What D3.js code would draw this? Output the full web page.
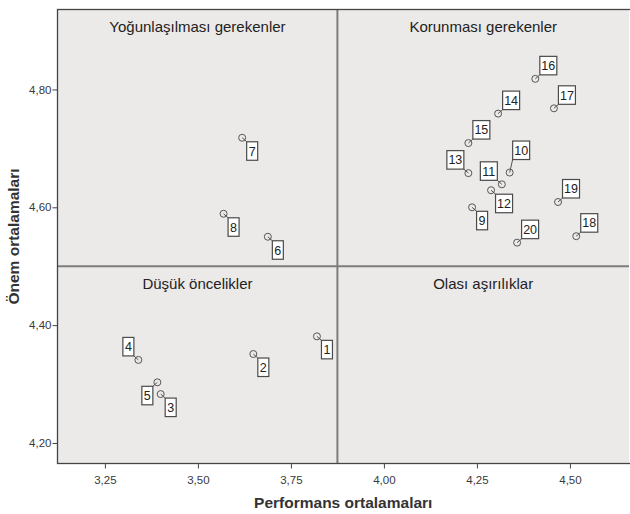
<!DOCTYPE html>
<html><head><meta charset="utf-8">
<script src="https://cdn.jsdelivr.net/npm/d3@7"></script>
<style>body{margin:0;background:#fff;} svg{display:block;font-family:"Liberation Sans",Arial,sans-serif;}</style>
</head><body>
<svg id="c" width="630" height="514"></svg>
<script>
const ids = [1,2,3,4,5,6,7,8,9,10,11,12,13,14,15,16,17,18,19,20];
const performance = [3.820,3.649,3.400,3.340,3.391,3.688,3.619,3.569,4.237,4.338,4.317,4.288,4.227,4.307,4.227,4.407,4.457,4.517,4.468,4.358];
const importance  = [4.381,4.351,4.283,4.341,4.303,4.550,4.718,4.589,4.600,4.659,4.639,4.629,4.658,4.759,4.709,4.818,4.768,4.551,4.609,4.540];
const labelSide   = ["dr","dr","dr","ul","dl","dr","dr","dr","dr","uR","ul","dr","ul","ur","ur","ur","ur","ur","ur","ur"];
const xTicks = [3.25,3.50,3.75,4.00,4.25,4.50];
const yTicks = [4.20,4.40,4.60,4.80];
const xMean = 3.875, yMean = 4.50;
const quadrantTitles = ["Yoğunlaşılması gerekenler","Korunması gerekenler","Düşük öncelikler","Olası aşırılıklar"];
const xTitle = "Performans ortalamaları", yTitle = "Önem ortalamaları";

const L = 57.5, R = 629, T = 9.5, B = 463.5;
const x = d3.scaleLinear().domain([3.1226, 4.6588]).range([L, R]);
const y = d3.scaleLinear().domain([4.1652, 4.9357]).range([B, T]);
const fmt = d => d3.format(".2f")(d).replace(".", ",");
const svg = d3.select("#c");

svg.append("rect").attr("x",L).attr("y",T).attr("width",R-L).attr("height",B-T).attr("fill","#ebeae8");

// mean lines
svg.append("line").attr("x1",x(xMean)).attr("x2",x(xMean)).attr("y1",T).attr("y2",B).attr("stroke","#7d7d7d").attr("stroke-width",2);
svg.append("line").attr("x1",L).attr("x2",R).attr("y1",y(yMean)).attr("y2",y(yMean)).attr("stroke","#7d7d7d").attr("stroke-width",2);

// border
svg.append("rect").attr("x",L).attr("y",T).attr("width",R-L+3).attr("height",B-T).attr("fill","none").attr("stroke","#444").attr("stroke-width",1.3);

// axes
const xAxis = d3.axisBottom(x).tickValues(xTicks).tickFormat(fmt).tickSize(5).tickSizeOuter(0);
const gx = svg.append("g").attr("transform",`translate(0,${B})`).call(xAxis);
gx.select(".domain").remove();
gx.selectAll("line").attr("stroke","#444");
gx.selectAll("text").attr("font-size",11.5).attr("fill","#3a3a3a").attr("dy","1.05em").attr("font-family","Liberation Sans, Arial, sans-serif");
const yAxis = d3.axisLeft(y).tickValues(yTicks).tickFormat(fmt).tickSize(5).tickSizeOuter(0);
const gy = svg.append("g").attr("transform",`translate(${L},0)`).call(yAxis);
gy.select(".domain").remove();
gy.selectAll("line").attr("stroke","#444");
gy.selectAll("text").attr("font-size",11.5).attr("fill","#3a3a3a").attr("x",-6).attr("font-family","Liberation Sans, Arial, sans-serif");

// quadrant titles
const qx = [(L+x(xMean))/2, (x(xMean)+R)/2];
const qy = [T+22.5, y(yMean)+22.5];
quadrantTitles.forEach((t,i)=>{
  svg.append("text").attr("x",qx[i%2]).attr("y",qy[Math.floor(i/2)]).attr("text-anchor","middle")
    .attr("font-size",15).attr("fill","#222").text(t);
});

// axis titles
svg.append("text").attr("x",(L+R)/2).attr("y",508).attr("text-anchor","middle").attr("font-size",15.5).attr("font-weight","bold").attr("fill","#333").text(xTitle);
svg.append("text").attr("transform",`translate(19,${(T+B)/2}) rotate(-90)`).attr("text-anchor","middle").attr("font-size",15.5).attr("font-weight","bold").attr("fill","#333").text(yTitle);

// points & labels
const data = ids.map((id,i)=>({id, px:x(performance[i]), py:y(importance[i]), side:labelSide[i]}));
const g = svg.append("g");
data.forEach(d=>{
  const w = String(d.id).length>1 ? 17 : 11, h = 18.5;
  const s = d.side.toLowerCase();
  const sx = s.includes("r") ? 1 : -1, sy = s.includes("d") ? 1 : -1;
  const gxp = d.side==="uR" ? 3 : 4.5, gyp = d.side==="uR" ? 13 : 4;
  const cx = d.px + sx*gxp, cy = d.py + sy*gyp; // nearest corner
  const bx = sx>0 ? cx : cx - w, by = sy>0 ? cy : cy - h;
  g.append("line").attr("x1",d.px).attr("y1",d.py).attr("x2",cx).attr("y2",cy).attr("stroke","#555").attr("stroke-width",1);
  g.append("circle").attr("cx",d.px).attr("cy",d.py).attr("r",3.5).attr("fill","none").attr("stroke","#555").attr("stroke-width",1);
  g.append("rect").attr("x",bx).attr("y",by).attr("width",w).attr("height",h).attr("fill","#fff").attr("stroke","#4a4a4a").attr("stroke-width",1.2);
  g.append("text").attr("x",bx+w/2).attr("y",by+h/2+4.5).attr("text-anchor","middle").attr("font-size",12.5).attr("fill","#222").text(d.id);
});
</script>
</body></html>
